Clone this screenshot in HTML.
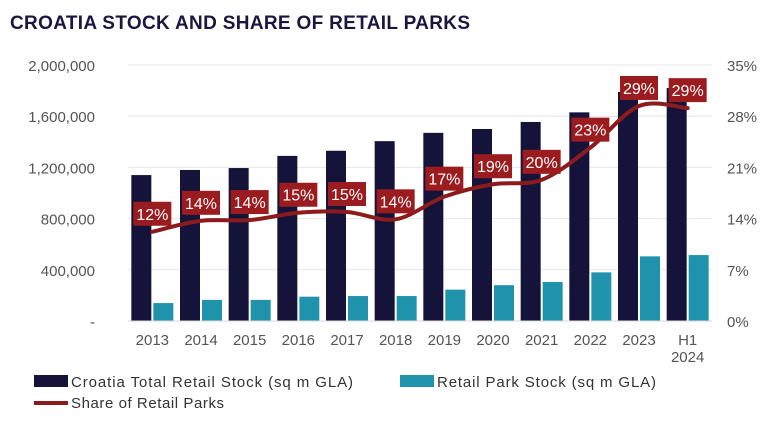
<!DOCTYPE html>
<html><head><meta charset="utf-8"><style>
body{margin:0;background:#fff;font-family:"Liberation Sans",sans-serif;}
svg text{font-family:"Liberation Sans",sans-serif;}
</style></head><body>
<svg id="chart" width="769" height="419" viewBox="0 0 769 419" xmlns="http://www.w3.org/2000/svg">
<text x="10" y="29" font-size="19" font-weight="bold" fill="#1a1640" textLength="460">CROATIA STOCK AND SHARE OF RETAIL PARKS</text>
<g id="grid"></g><g id="bars"></g><g id="line"></g><g id="labels"></g><g id="axes"></g>
<g>
<rect x="34" y="375" width="34" height="12" fill="#15133a"/>
<text x="71" y="387" font-size="15" fill="#333" textLength="282">Croatia Total Retail Stock (sq m GLA)</text>
<rect x="400" y="375" width="34" height="12" fill="#1f93ab"/>
<text x="437" y="387" font-size="15" fill="#333" textLength="219">Retail Park Stock (sq m GLA)</text>
<line x1="34" y1="403" x2="68" y2="403" stroke="#8c1b1e" stroke-width="4"/>
<text x="71" y="408" font-size="15" fill="#333" textLength="153">Share of Retail Parks</text>
</g>
</svg>
<script>
const categories=["2013","2014","2015","2016","2017","2018","2019","2020","2021","2022","2023","H1|2024"];
const totalStock=[1140000,1180000,1195000,1290000,1330000,1405000,1470000,1500000,1555000,1630000,1790000,1820000];
const parkStock=[140000,165000,165000,190000,195000,195000,245000,280000,305000,380000,505000,515000];
const shareValues=[12.2,13.7,13.8,14.8,14.9,13.9,17.0,18.7,19.3,23.7,29.4,29.1];
const shareLabels=["12%","14%","14%","15%","15%","14%","17%","19%","20%","23%","29%","29%"];
const leftTicks=[0,400000,800000,1200000,1600000,2000000];
const leftTickLabels=["-","400,000","800,000","1,200,000","1,600,000","2,000,000"];
const rightTicks=[0,7,14,21,28,35];
const rightTickLabels=["0%","7%","14%","21%","28%","35%"];

const NS="http://www.w3.org/2000/svg";
const x0=128,x1=712,yB=321,yT=65;
const band=(x1-x0)/categories.length;
const xc=i=>x0+band*(i+0.5);
const yL=v=>yB-(v/2000000)*(yB-yT);
const yR=v=>yB-(v/35)*(yB-yT);
function mk(tag,attrs,parent){const e=document.createElementNS(NS,tag);for(const k in attrs)e.setAttribute(k,attrs[k]);document.getElementById(parent).appendChild(e);return e;}

leftTicks.forEach((t,i)=>{
  if(i>0){const g=mk('line',{x1:x0,x2:x1,y1:yL(t),y2:yL(t),stroke:'#e6e6e6','stroke-width':1},'grid');
  
  }
  const tx=mk('text',{x:95,y:yL(t)+6,'font-size':15,fill:'#555','text-anchor':'end'},'axes');tx.textContent=leftTickLabels[i];
  
  
});
rightTicks.forEach((t,i)=>{
  const tx=mk('text',{x:727,y:yR(t)+6,'font-size':15,fill:'#555'},'axes');tx.textContent=rightTickLabels[i];
  
  
});
const ax=mk('line',{x1:x0,x2:x1,y1:yB,y2:yB,stroke:'#d8d8d8','stroke-width':1},'axes');



categories.forEach((c,i)=>{
  const cx=xc(i);
  const b1=mk('rect',{x:cx-21,y:yL(totalStock[i]),width:20,height:yB-yL(totalStock[i]),fill:'#15133a'},'bars');
  
  
  const b2=mk('rect',{x:cx+1,y:yL(parkStock[i]),width:20,height:yB-yL(parkStock[i]),fill:'#1f93ab'},'bars');
  
  
  const parts=c.split('|');
  parts.forEach((p,j)=>{
    const t=mk('text',{x:cx,y:345+j*17,'font-size':15,fill:'#555','text-anchor':'middle'},'axes');t.textContent=p;
    
    
  });
});

const pts=shareValues.map((v,i)=>[xc(i),yR(v)]);
let d='M'+pts[0][0]+','+pts[0][1];
for(let i=0;i<pts.length-1;i++){
  const p0=pts[i-1]||pts[i],p1=pts[i],p2=pts[i+1],p3=pts[i+2]||p2;
  const c1=[p1[0]+(p2[0]-p0[0])/6,p1[1]+(p2[1]-p0[1])/6];
  const c2=[p2[0]-(p3[0]-p1[0])/6,p2[1]-(p3[1]-p1[1])/6];
  d+=` C${c1[0]},${c1[1]} ${c2[0]},${c2[1]} ${p2[0]},${p2[1]}`;
}
const ln=mk('path',{d:d,fill:'none',stroke:'#8c1b1e','stroke-width':4,'stroke-linecap':'round'},'line');



pts.forEach((p,i)=>{
  const cy=p[1]-18;
  const r=mk('rect',{x:p[0]-19,y:cy-12,width:38,height:24,fill:'#9b1c1f'},'labels');
  
  
  const t=mk('text',{x:p[0],y:cy+6,'font-size':16,fill:'#fff','text-anchor':'middle'},'labels');t.textContent=shareLabels[i];
  
  
});
</script>
</body></html>
